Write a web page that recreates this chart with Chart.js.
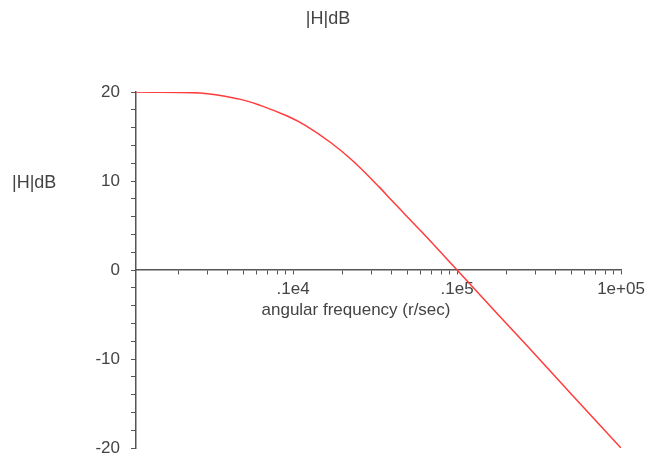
<!DOCTYPE html>
<html>
<head>
<meta charset="utf-8">
<script src="https://cdn.jsdelivr.net/npm/chart.js@4/dist/chart.umd.min.js"></script>
<style>
  html, body { margin: 0; padding: 0; background: #fff; }
  #wrap { width: 652px; height: 462px; }
</style>
</head>
<body>
<div id="wrap"><canvas id="c"></canvas></div>
<script>
// frequency response (rad/s vs dB)
const freq = [110, 270, 470, 630, 920, 1200, 1700, 2300, 3400, 4000, 6000, 10000, 18000, 27000, 50000, 100000];
const magDb = [20.0, 19.9, 19.2, 18.5, 17.3, 16.2, 14.3, 12.3, 9.2, 7.8, 4.4, 0.0, -5.1, -8.6, -14.0, -20.0];

// labelled x ticks (Maple style)
const xMajorTicks = [1000, 10000, 100000];
const xTickLabels = [".1e4", ".1e5", "1e+05"];
const xMinorSteps = [2, 3, 4, 5, 6, 7, 8, 9];
const yTickLabels = [-20, -10, 0, 10, 20];

const chartTitle = "|H|dB";
const yTitle = "|H|dB";
const xTitle = "angular frequency (r/sec)";

const textColor = "#444";
const axisColor = "#555";
const family = "'Liberation Sans', Arial, sans-serif";
const tickFont = { family: family, size: 17 };

// all x tick positions: minor decade steps + major powers of ten
const xTickValues = [];
[100, 1000, 10000].forEach(d => xMinorSteps.forEach(m => xTickValues.push(d * m)));
xMajorTicks.forEach(v => xTickValues.push(v));
xTickValues.sort((a, b) => a - b);

// chart title, horizontal y title and the x title under the axis
const titles = {
  id: "titles",
  afterDraw(chart) {
    const { ctx, chartArea, scales } = chart;
    const y0 = scales.y.getPixelForValue(0);
    ctx.save();
    ctx.fillStyle = textColor;
    ctx.textBaseline = "middle";
    ctx.font = "18px " + family;
    ctx.textAlign = "center";
    ctx.fillText(chartTitle, 328, 19);
    ctx.textAlign = "left";
    ctx.fillText(yTitle, 12, scales.y.getPixelForValue(10) + 2);
    ctx.font = "17px " + family;
    ctx.textAlign = "center";
    ctx.fillText(xTitle, chartArea.left + 220, y0 + 40);
    ctx.restore();
  }
};

new Chart(document.getElementById("c"), {
  type: "line",
  data: {
    datasets: [{
      data: freq.map((f, i) => ({ x: f, y: magDb[i] })),
      borderColor: "#ff3b3b",
      borderWidth: 1.5,
      pointRadius: 0,
      fill: false,
      tension: 0.4
    }]
  },
  options: {
    responsive: true,
    maintainAspectRatio: false,
    animation: false,
    layout: { padding: { top: 92, left: 56, right: 31, bottom: 14 } },
    plugins: {
      legend: { display: false },
      tooltip: { enabled: false },
      title: { display: false }
    },
    scales: {
      x: {
        type: "logarithmic",
        min: 110,
        max: 100000,
        position: { y: 0 },
        afterBuildTicks: s => { s.ticks = xTickValues.map(v => ({ value: v })); },
        border: { color: axisColor, width: 1.5 },
        grid: { drawOnChartArea: false, drawTicks: true, tickLength: 4, color: axisColor },
        ticks: {
          autoSkip: false,
          maxRotation: 0,
          color: textColor,
          font: tickFont,
          padding: 5,
          callback: v => {
            const i = xMajorTicks.indexOf(v);
            return i >= 0 ? xTickLabels[i] : "";
          }
        }
      },
      y: {
        min: -20,
        max: 20,
        afterFit: s => {
          s.width = 80;
          // don't let the wide label padding push the plot bottom up
          s.paddingTop = 0;
          s.paddingBottom = 0;
        },
        border: { color: axisColor, width: 1.5 },
        grid: { drawOnChartArea: false, drawTicks: true, tickLength: 5, color: axisColor },
        ticks: {
          stepSize: 2,
          autoSkip: false,
          color: textColor,
          font: tickFont,
          padding: 11,
          callback: v => (yTickLabels.includes(v) ? String(v) : "")
        }
      }
    }
  },
  plugins: [titles]
});
</script>
</body>
</html>
